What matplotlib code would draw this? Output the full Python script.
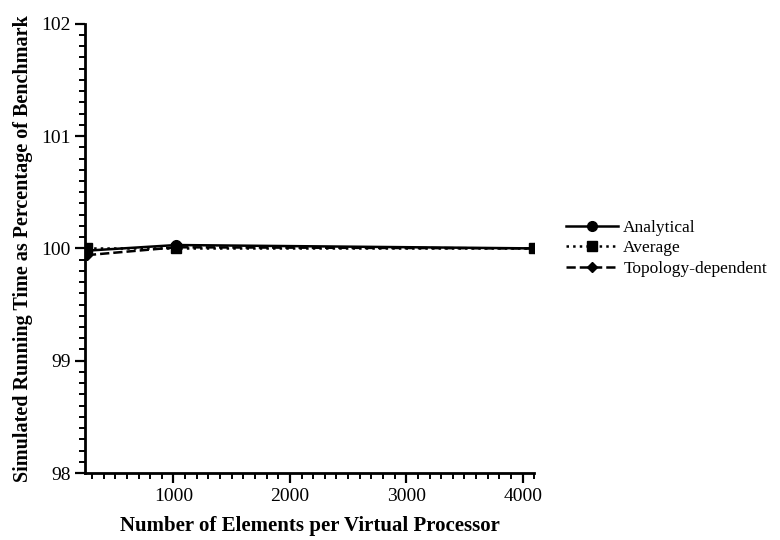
import numpy as np
import matplotlib
matplotlib.use('Agg')
import matplotlib.pyplot as plt
from matplotlib.ticker import MultipleLocator

plt.rcParams['font.family'] = ['Liberation Serif', 'DejaVu Serif']

# elements per virtual processor
elements = [256, 1024, 4096]
analytical = [99.98, 100.03, 100.0]
average = [100.0, 100.0, 100.0]
topology = [99.94, 100.01, 100.0]

fig = plt.figure(figsize=(7.8, 5.4), dpi=100)
ax = fig.add_axes([0.109, 0.124, 0.576, 0.832])

ax.plot(elements, analytical, '-', color='k', lw=1.8, marker='o', ms=7, label='Analytical')
ax.plot(elements, average, ':', color='k', lw=1.8, marker='s', ms=7, label='Average')
ax.plot(elements, topology, '--', color='k', lw=1.8, marker='D', ms=5.5, label='Topology-dependent')

ax.set_xlim(240, 4100)
ax.set_ylim(98, 102)
ax.set_xticks([1000, 2000, 3000, 4000])
ax.set_yticks([98, 99, 100, 101, 102])
ax.xaxis.set_minor_locator(MultipleLocator(100))
ax.yaxis.set_minor_locator(MultipleLocator(0.1))

for s in ['top', 'right']:
    ax.spines[s].set_visible(False)
for s in ['left', 'bottom']:
    ax.spines[s].set_linewidth(2)

ax.tick_params(which='major', direction='out', length=7, width=1.6, labelsize=14)
ax.tick_params(which='minor', direction='out', length=4, width=1.4)

ax.set_xlabel('Number of Elements per Virtual Processor', fontsize=15, fontweight='bold', labelpad=8)
ax.set_ylabel('Simulated Running Time as Percentage of Benchmark', fontsize=14.5, fontweight='bold', labelpad=6)

ax.legend(loc='center left', bbox_to_anchor=(1.055, 0.5), borderaxespad=0, frameon=False,
          fontsize=12.5, handlelength=3.0, handletextpad=0.3, labelspacing=0.25)

plt.savefig('out.png', dpi=100)
